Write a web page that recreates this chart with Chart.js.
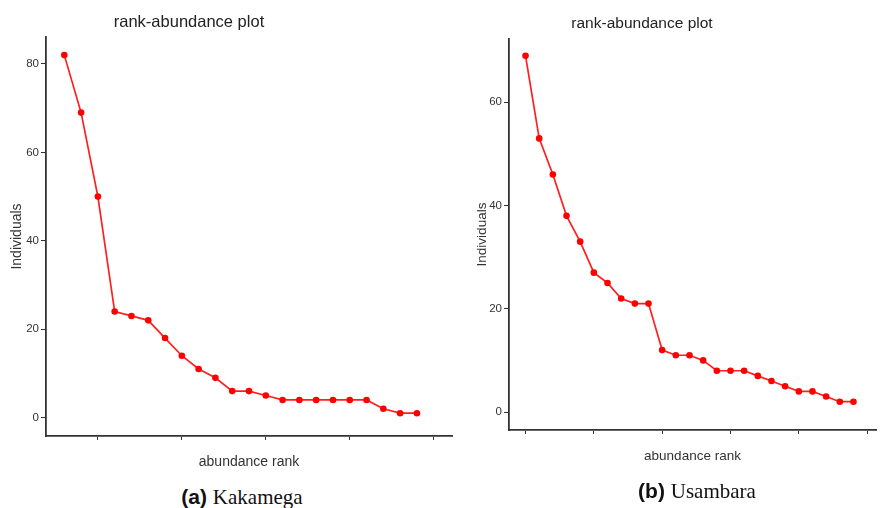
<!DOCTYPE html>
<html>
<head>
<meta charset="utf-8">
<script src="https://cdn.jsdelivr.net/npm/chart.js@4.4.0/dist/chart.umd.min.js"></script>
<style>
    body { margin: 0; background: #fff; width: 880px; height: 508px; position: relative; overflow: hidden; font-family: "Liberation Sans", Arial, sans-serif; }
    canvas { position: absolute; top: 0; }
    .label { position: absolute; transform: translate(-50%, -50%); white-space: nowrap; line-height: 1; }
    .plot-title { color: #222; }
    .caption { font-size: 21px; color: #111; }
    .caption b { font-family: "Liberation Sans", Arial, sans-serif; }
    .caption span { font-family: "Liberation Serif", "Times New Roman", serif; }
</style>
</head>
<body>
<canvas id="kakamega-chart" width="460" height="480" style="left:0"></canvas>
<canvas id="usambara-chart" width="420" height="480" style="left:460px"></canvas>

<div class="label plot-title" style="left:189px; top:21px; font-size:16.5px">rank-abundance plot</div>
<div class="label plot-title" style="left:642px; top:23px; font-size:15.5px">rank-abundance plot</div>
<div class="label caption" style="left:242px; top:497px"><b>(a)</b> <span>Kakamega</span></div>
<div class="label caption" style="left:697px; top:491px"><b>(b)</b> <span>Usambara</span></div>

<script>
// Individuals per species, sorted from most to least abundant
const kakamegaCounts = [82, 69, 50, 24, 23, 22, 18, 14, 11, 9, 6, 6, 5, 4, 4, 4, 4, 4, 4, 2, 1, 1];
const usambaraCounts = [69, 53, 46, 38, 33, 27, 25, 22, 21, 21, 12, 11, 11, 10, 8, 8, 8, 7, 6, 5, 4, 4, 3, 2, 2];

// Tick positions (rank axis carries marks only, no labels)
const kakamegaRankTicks = [3, 8, 13, 18, 23];
const usambaraRankTicks = [1, 6, 11, 16, 21, 26];
const kakamegaCountTicks = [0, 20, 40, 60, 80];
const usambaraCountTicks = [0, 20, 40, 60];

const AXIS_COLOR = '#333';
const LINE_RED = '#ff1f1f';

function renderRankAbundance(canvasId, counts, opts) {
    const ctx = document.getElementById(canvasId);
    if (!ctx) return null;

    const points = counts.map((v, i) => ({ x: i + 1, y: v }));

    return new Chart(ctx, {
        type: 'line',
        data: {
            datasets: [{
                data: points,
                borderColor: LINE_RED,
                borderWidth: 1.7,
                pointRadius: 3.3,
                pointBackgroundColor: '#ff0000',
                pointBorderWidth: 0,
                tension: 0
            }]
        },
        options: {
            responsive: false,
            animation: false,
            layout: { padding: { top: opts.padTop, right: opts.padRight, left: 0, bottom: 0 } },
            plugins: {
                legend: { display: false },
                tooltip: { enabled: false }
            },
            scales: {
                x: {
                    type: 'linear',
                    min: opts.xMin,
                    max: opts.xMax,
                    afterBuildTicks: s => { s.ticks = opts.xTicks.map(v => ({ value: v })); },
                    afterFit: s => { s.height = opts.xHeight; },
                    ticks: { callback: () => '', padding: 0 },
                    grid: { drawOnChartArea: false, drawTicks: true, tickLength: 4, color: AXIS_COLOR, lineWidth: 1 },
                    border: { display: true, color: AXIS_COLOR, width: 1.8 },
                    title: {
                        display: true,
                        text: 'abundance rank',
                        color: '#333',
                        font: { family: '"Liberation Sans", Arial, sans-serif', size: opts.axisTitleSize },
                        padding: { top: 0, bottom: opts.xTitlePad }
                    }
                },
                y: {
                    type: 'linear',
                    min: opts.yMin,
                    max: opts.yMax,
                    afterBuildTicks: s => { s.ticks = opts.yTicks.map(v => ({ value: v })); },
                    afterFit: s => { s.width = opts.yWidth; },
                    ticks: {
                        color: '#333',
                        padding: 2,
                        font: { family: '"Liberation Sans", Arial, sans-serif', size: 11.5 }
                    },
                    grid: { drawOnChartArea: false, drawTicks: true, tickLength: 5, color: AXIS_COLOR, lineWidth: 1 },
                    border: { display: true, color: AXIS_COLOR, width: 1.8 },
                    title: {
                        display: true,
                        text: 'Individuals',
                        color: '#333',
                        font: { family: '"Liberation Sans", Arial, sans-serif', size: opts.axisTitleSize },
                        padding: { top: opts.yTitlePad, bottom: 0 }
                    }
                }
            }
        }
    });
}

renderRankAbundance('kakamega-chart', kakamegaCounts, {
    xMin: -0.09, xMax: 24.09, xTicks: kakamegaRankTicks,
    yMin: -4.16, yMax: 86.1, yTicks: kakamegaCountTicks,
    padTop: 37, padRight: 8, yWidth: 46, xHeight: 44,
    xTitlePad: 9, yTitlePad: 9, axisTitleSize: 14
});

renderRankAbundance('usambara-chart', usambaraCounts, {
    xMin: -0.21, xMax: 26.65, xTicks: usambaraRankTicks,
    yMin: -3.48, yMax: 72.25, yTicks: usambaraCountTicks,
    padTop: 39, padRight: 0, yWidth: 49, xHeight: 50,
    xTitlePad: 16, yTitlePad: 14, axisTitleSize: 13.5
});
</script>
</body>
</html>
